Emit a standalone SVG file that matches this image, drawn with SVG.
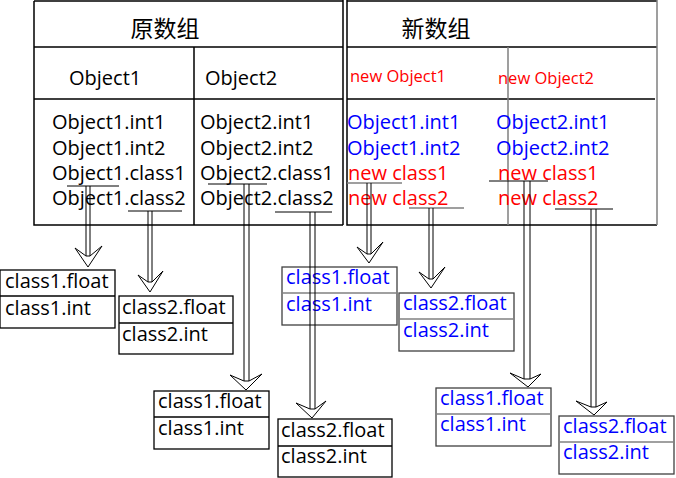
<svg xmlns="http://www.w3.org/2000/svg" width="676" height="478" viewBox="0 0 676 478">
<style>
text{font-family:"Open Sans","Noto Sans","Noto Sans CJK SC",sans-serif;font-size:20px;fill:#000}
.cjk{font-family:"Noto Sans CJK SC","Open Sans",sans-serif;font-size:23px}
.red{fill:#ff0000}
.blue{fill:#0000ff}
.sm{font-size:16.5px}
.ln{stroke:#000;stroke-width:1.5;fill:none}
.gl{stroke:#808080;stroke-width:1.5;fill:none}
.box{fill:#fff;stroke:#000;stroke-width:1.3}
.boxb{fill:#fff;stroke:#404040;stroke-width:1.3}
.sh{stroke:#000;stroke-width:1;fill:none}
.hd{fill:#fff;stroke:#000;stroke-width:1}
</style>
<rect width="676" height="478" fill="#fff"/>
<g id="table-original">
<path class="ln" d="M34,1 H343 M34,1 V225 H343 M343,0 V225 M34,47 H343 M34,99 H343 M194,47 V225"/>
<text class="cjk" x="165" y="37" text-anchor="middle">原数组</text>
<text x="69" y="85">Object1</text>
<text x="205" y="85">Object2</text>
<text x="52" y="129">Object1.int1</text>
<text x="52" y="155">Object1.int2</text>
<text x="52" y="180">Object1.class1</text>
<text x="52" y="205">Object1.class2</text>
<text x="200" y="129">Object2.int1</text>
<text x="200" y="155">Object2.int2</text>
<text x="200" y="180">Object2.class1</text>
<text x="200" y="205">Object2.class2</text>
</g>
<g id="table-new">
<path class="ln" d="M347,1 H657 M347,0 V225 H657 M347,47 H657 M347,99 H655"/>
<path class="gl" d="M657,0 V225 M508,47 V225"/>
<text class="cjk" x="436" y="37" text-anchor="middle">新数组</text>
<text class="red sm" x="350" y="82">new Object1</text>
<text class="red sm" x="498" y="84">new Object2</text>
<text class="blue" x="347" y="129">Object1.int1</text>
<text class="blue" x="347" y="155">Object1.int2</text>
<text class="red" x="348" y="180">new class1</text>
<text class="red" x="348" y="205">new class2</text>
<text class="blue" x="496" y="129">Object2.int1</text>
<text class="blue" x="496" y="155">Object2.int2</text>
<text class="red" x="498" y="180">new class1</text>
<text class="red" x="498" y="205">new class2</text>
</g>
<g id="box-o1-class1">
<rect class="box" x="0" y="270" width="115" height="58"/>
<path class="ln" d="M0,296 H115"/>
<text x="5" y="288">class1.float</text>
<text x="5" y="315">class1.int</text>
</g>
<g id="box-o1-class2">
<rect class="box" x="119" y="296" width="114" height="58"/>
<path class="ln" d="M119,323 H233"/>
<text x="122" y="314">class2.float</text>
<text x="122" y="341">class2.int</text>
</g>
<g id="box-o2-class1">
<rect class="box" x="154" y="391" width="115" height="58"/>
<path class="ln" d="M154,417 H269"/>
<text x="158" y="408">class1.float</text>
<text x="158" y="435">class1.int</text>
</g>
<g id="box-o2-class2">
<rect class="box" x="278" y="419" width="114" height="58"/>
<path class="ln" d="M278,446 H392"/>
<text x="281" y="437">class2.float</text>
<text x="281" y="463">class2.int</text>
</g>
<g id="box-n1-class1">
<rect class="boxb" x="282" y="267" width="115" height="58"/>
<path class="gl" d="M282,293 H397"/>
<text class="blue" x="286" y="284">class1.float</text>
<text class="blue" x="286" y="311">class1.int</text>
</g>
<g id="box-n1-class2">
<rect class="boxb" x="399" y="293" width="115" height="58"/>
<path class="gl" d="M399,319 H514"/>
<text class="blue" x="403" y="310">class2.float</text>
<text class="blue" x="403" y="337">class2.int</text>
</g>
<g id="box-n2-class1">
<rect class="boxb" x="436" y="388" width="115" height="58"/>
<path class="gl" d="M436,414 H551"/>
<text class="blue" x="440" y="405">class1.float</text>
<text class="blue" x="440" y="431">class1.int</text>
</g>
<g id="box-n2-class2">
<rect class="boxb" x="559" y="416" width="115" height="58"/>
<path class="gl" d="M559,442 H674"/>
<text class="blue" x="563" y="433">class2.float</text>
<text class="blue" x="563" y="459">class2.int</text>
</g>
<g id="connectors">
<path class="sh" d="M67,186 H119 M128,211 H182 M208,184 H267 M275,212 H332 M489,181 H548 M555,209 H613"/>
<path class="gl" d="M347,183 H402 M409,208 H464" stroke-width="1.3"/>
<path class="sh" d="M86,186 V257 M90,186 V257"/>
<polygon class="hd" points="75,248 88,267 102,246 90,256 86,256"/>
<path class="sh" d="M148,211 V282 M152,211 V282"/>
<polygon class="hd" points="138,275 150,292 163,271 152,282 148,282"/>
<path class="sh" d="M244,184 V381 M249,184 V381"/>
<polygon class="hd" points="230,375 246,390 262,374 249,381 244,381"/>
<path class="sh" d="M310,212 V409 M315,212 V409"/>
<polygon class="hd" points="296,403 312,418 326,401 315,409 310,409"/>
<path class="sh" d="M367,183 V254 M371,183 V254"/>
<polygon class="hd" points="357,247 369,263 383,242 371,254 367,254"/>
<path class="sh" d="M429,208 V279 M433,208 V279"/>
<polygon class="hd" points="419,272 431,288 445,267 433,279 429,279"/>
<path class="sh" d="M524,181 V379 M530,181 V379"/>
<polygon class="hd" points="510,373 528,387 541,374 530,379 524,379"/>
<path class="sh" d="M591,209 V407 M596,209 V407"/>
<polygon class="hd" points="576,401 594,415 607,402 596,407 591,407"/>
</g>
</svg>
